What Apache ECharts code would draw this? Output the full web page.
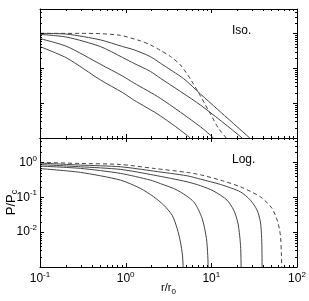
<!DOCTYPE html>
<html><head><meta charset="utf-8">
<script src="https://cdn.jsdelivr.net/npm/echarts@6/dist/echarts.min.js"></script>
<style>html,body{margin:0;padding:0;background:#fff}#c{width:309px;height:301px}</style>
</head><body><div id="c"></div>
<script>
// ---- data: [r/r0, P/Pc] ----
const isoDashed = [[0.1,1.0],[0.3,1.0],[0.51,0.98],[0.87,0.876],[1.49,0.609],[1.95,0.467],[2.55,0.325],[3.33,0.218],[4.36,0.124],[5.70,0.049],[7.46,0.016],[9.76,0.0049],[12.1,0.0019],[15.0,0.00096],[16.3,0.0005]];
const iso1 = [[0.1,1.0],[0.207,0.95],[0.508,0.65],[0.918,0.42],[1.243,0.34],[1.946,0.215],[2.547,0.139],[4.76,0.05],[7.46,0.0183],[11.69,0.0068],[28.06,0.001],[33,0.0007]];
const iso2 = [[0.1,0.936],[0.207,0.778],[0.508,0.418],[0.918,0.204],[1.243,0.139],[1.946,0.081],[2.547,0.0516],[7.46,0.0088],[22.87,0.001],[27,0.0006]];
const iso3 = [[0.1,0.709],[0.207,0.418],[0.508,0.13],[0.918,0.06],[1.243,0.038],[2.547,0.0137],[7.46,0.0021],[10.67,0.00097],[12,0.0006]];
const iso4 = [[0.1,0.418],[0.207,0.194],[0.508,0.0461],[0.918,0.0202],[1.243,0.0123],[2.547,0.0043],[5.70,0.00099],[6.5,0.0006]];

const logDashed = [[0.1,1.0],[0.3,0.93],[0.87,0.87],[2.13,0.672],[5.22,0.516],[7.46,0.44],[12.77,0.31],[21.86,0.199],[37.4,0.1027],[51.2,0.0477],[59.6,0.0196],[64.0,0.0081],[65.8,0.0022],[66.3,0.0009],[66.4,0.00001]];
const log1 = [[0.1,0.955],[0.297,0.836],[0.869,0.748],[2.128,0.562],[5.22,0.412],[7.46,0.33],[12.77,0.233],[21.86,0.143],[28.6,0.0826],[34.2,0.0426],[37.4,0.0196],[38.7,0.00655],[39.15,0.00092],[39.2,0.00001]];
const log2 = [[0.1,0.865],[0.297,0.748],[0.869,0.629],[2.128,0.432],[5.22,0.277],[7.46,0.215],[10.67,0.15],[15.27,0.0826],[18.25,0.0426],[20.3,0.0196],[21.4,0.0081],[22.03,0.0034],[22.27,0.0009],[22.3,0.00001]];
const log3 = [[0.1,0.783],[0.297,0.672],[0.869,0.483],[1.946,0.31],[2.547,0.246],[3.99,0.16],[6.23,0.0738],[7.81,0.0246],[8.77,0.00655],[9.08,0.00217],[9.18,0.0009],[9.2,0.00001]];
const log4 = [[0.1,0.664],[0.297,0.516],[0.869,0.31],[1.489,0.179],[2.128,0.1027],[2.784,0.0593],[3.488,0.0306],[3.99,0.0127],[4.36,0.0052],[4.60,0.0022],[4.69,0.0009],[4.7,0.00001]];

// ---- ticks ----
const xMajor = [0.1, 1, 10, 100];
const xMinor = [0.2,0.3,0.4,0.5,0.6,0.7,0.8,0.9,2,3,4,5,6,7,8,9,20,30,40,50,60,70,80,90];
const yMajor = [0.001, 0.01, 0.1, 1];
const yMinor = [0.002,0.003,0.004,0.005,0.006,0.007,0.008,0.009,0.02,0.03,0.04,0.05,0.06,0.07,0.08,0.09,0.2,0.3,0.4,0.5,0.6,0.7,0.8,0.9,2,3,4,5];
const xLabels = [0.1, 1, 10, 100];
const yLabels = [0.01, 0.1, 1];
const X_MIN = 0.1, X_MAX = 100, Y_MIN = 0.001, Y_MAX = 5;

const FONT = 'Liberation Sans, Arial, Helvetica, sans-serif';
const LINE = '#444';

function powLabel(v){
  const e = Math.round(Math.log10(v));
  return '{b|10}{e|' + e + '}';
}
const powRich = {
  b: {fontSize: 12, fontFamily: FONT, color: '#000', lineHeight: 16},
  e: {fontSize: 8, fontFamily: FONT, color: '#000', lineHeight: 8, verticalAlign: 'top'}
};

function xAxisDef(grid, pos, labels){
  return {
    gridIndex: grid, type: 'log', logBase: 10, min: X_MIN, max: X_MAX, position: pos,
    axisLine: {show: true, lineStyle: {color: '#000', width: 1}},
    axisTick: {show: false}, splitLine: {show: false}, minorTick: {show: false},
    axisLabel: labels ? {show: true, customValues: xLabels, formatter: powLabel, rich: powRich, margin: 4} : {show: false}
  };
}
function yAxisDef(grid, pos, labels){
  return {
    gridIndex: grid, type: 'log', logBase: 10, min: Y_MIN, max: Y_MAX, position: pos,
    axisLine: {show: true, lineStyle: {color: '#000', width: 1}},
    axisTick: {show: false}, splitLine: {show: false}, minorTick: {show: false},
    axisLabel: labels ? {show: true, customValues: yLabels, formatter: powLabel, rich: powRich, margin: 3} : {show: false}
  };
}

function tickSeries(xi, yi){
  const xd = xMajor.map(v => [v, 1, 4]).concat(xMinor.map(v => [v, 1, 2]));
  const yd = yMajor.map(v => [1, v, 4]).concat(yMinor.map(v => [1, v, 2]));
  const st = {stroke: '#000', lineWidth: 1};
  return [{
    type: 'custom', xAxisIndex: xi, yAxisIndex: yi, silent: true, animation: false, clip: false, z: 5,
    data: xd,
    renderItem: function(params, api){
      const p = api.coord([api.value(0), api.value(1)]);
      const cs = params.coordSys; const len = api.value(2);
      const x = Math.round(p[0]) + 0.5;
      const top = Math.round(cs.y), bot = Math.round(cs.y + cs.height);
      return {type: 'group', children: [
        {type: 'line', shape: {x1: x, y1: bot, x2: x, y2: bot - len}, style: st},
        {type: 'line', shape: {x1: x, y1: top, x2: x, y2: top + len}, style: st}
      ]};
    }
  }, {
    type: 'custom', xAxisIndex: xi, yAxisIndex: yi, silent: true, animation: false, clip: false, z: 5,
    data: yd,
    renderItem: function(params, api){
      const p = api.coord([api.value(0), api.value(1)]);
      const cs = params.coordSys; const len = api.value(2);
      const y = Math.round(p[1]) + 0.5;
      const l = Math.round(cs.x), r = Math.round(cs.x + cs.width);
      return {type: 'group', children: [
        {type: 'line', shape: {x1: l, y1: y, x2: l + len, y2: y}, style: st},
        {type: 'line', shape: {x1: r, y1: y, x2: r - len, y2: y}, style: st}
      ]};
    }
  }];
}

function curve(data, xi, yi, dashed){
  return {
    type: 'line', data: data, xAxisIndex: xi, yAxisIndex: yi, showSymbol: false, symbol: 'none',
    smooth: 0.25, clip: true, animation: false, silent: true,
    lineStyle: {color: LINE, width: 1, type: dashed ? [4, 3] : 'solid'}
  };
}

const chart = echarts.init(document.getElementById('c'), null, {renderer: 'canvas'});
chart.setOption({
  animation: false,
  backgroundColor: '#fff',
  grid: [
    {left: 40, width: 257, top: 9, height: 129, outerBoundsMode: 'none', containLabel: false},
    {left: 40, width: 257, top: 138, height: 129, outerBoundsMode: 'none', containLabel: false}
  ],
  xAxis: [
    xAxisDef(0, 'bottom', false), xAxisDef(0, 'top', false),
    Object.assign(xAxisDef(1, 'bottom', true), {
      name: '{m|r/r}{s|0}', nameLocation: 'middle', nameGap: 13, nameMoveOverlap: false,
      nameTextStyle: {rich: {
        m: {fontSize: 11, fontFamily: FONT, color: '#000', lineHeight: 16},
        s: {fontSize: 8, fontFamily: FONT, color: '#000', lineHeight: 8, verticalAlign: 'bottom'}
      }}
    }),
    xAxisDef(1, 'top', false)
  ],
  yAxis: [
    yAxisDef(0, 'left', false), yAxisDef(0, 'right', false),
    Object.assign(yAxisDef(1, 'left', true), {
      name: '{m|P/P}{s|c}', nameLocation: 'middle', nameGap: 21, nameMoveOverlap: false,
      nameTextStyle: {rich: {
        m: {fontSize: 13, fontFamily: FONT, color: '#000', lineHeight: 15},
        s: {fontSize: 9, fontFamily: FONT, color: '#000', lineHeight: 9, verticalAlign: 'bottom'}
      }}
    }),
    yAxisDef(1, 'right', false)
  ],
  graphic: [
    {type: 'text', left: 232, top: 25, style: {text: 'Iso.', font: '12px ' + FONT, fill: '#000'}},
    {type: 'text', left: 232, top: 154, style: {text: 'Log.', font: '12px ' + FONT, fill: '#000'}}
  ],
  series: [
    curve(isoDashed, 0, 0, true), curve(iso1, 0, 0), curve(iso2, 0, 0), curve(iso3, 0, 0), curve(iso4, 0, 0),
    curve(logDashed, 2, 2, true), curve(log1, 2, 2), curve(log2, 2, 2), curve(log3, 2, 2), curve(log4, 2, 2)
  ].concat(tickSeries(0, 0)).concat(tickSeries(2, 2))
});
</script>
</body></html>
